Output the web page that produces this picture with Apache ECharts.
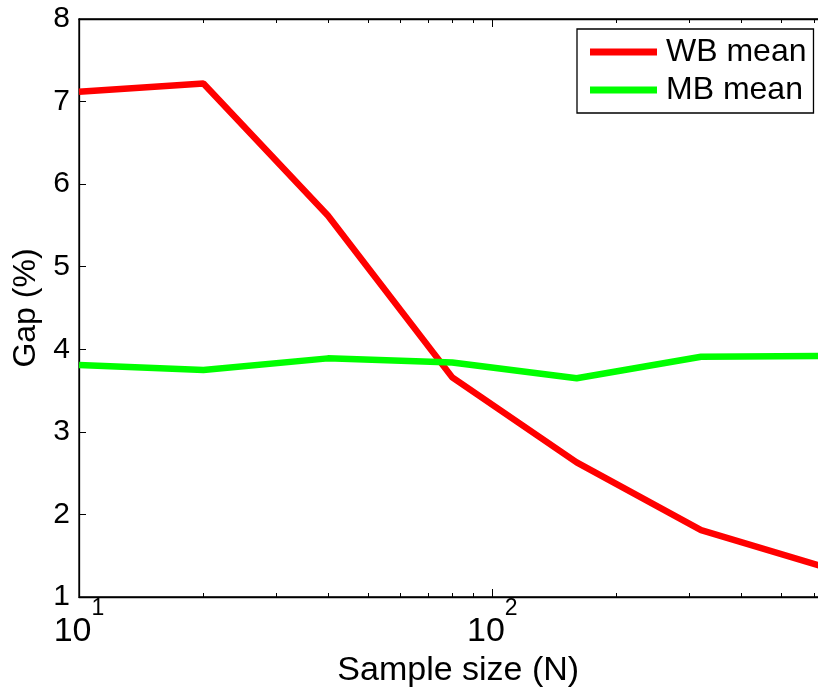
<!DOCTYPE html>
<html>
<head>
<meta charset="utf-8">
<script src="https://cdn.jsdelivr.net/npm/echarts@6/dist/echarts.min.js"></script>
<style>html,body{margin:0;padding:0;background:#fff}#c{width:818px;height:689px}</style>
</head>
<body>
<div id="c"></div>
<script>
const sampleSizes = [10, 20, 40, 80, 160, 320, 640];
const wbMean = [7.12, 7.22, 5.62, 3.66, 2.63, 1.81, 1.36];
const mbMean = [3.81, 3.75, 3.89, 3.84, 3.65, 3.91, 3.92];
const majorTicks = [10, 100];
const minorTicks = [20, 30, 40, 50, 60, 70, 80, 90, 200, 300, 400, 500, 600];
const yTicks = [1, 2, 3, 4, 5, 6, 7, 8];

const FONT = '"Liberation Sans", Arial, Helvetica, sans-serif';
const chart = echarts.init(document.getElementById('c'), null, {renderer: 'canvas'});

function xAx(pos, ticks, len, showLabel, showLine) {
  return {
    type: 'log', logBase: 10, min: 10, max: 640, position: pos,
    axisLine: {show: showLine, onZero: false, lineStyle: {color: '#000', width: 1.3}},
    axisTick: {show: true, inside: true, length: len, customValues: ticks, lineStyle: {color: '#000', width: 1}},
    axisLabel: {
      show: showLabel, customValues: majorTicks, margin: 0,
      formatter: function (v) { return '{b|10}{s|' + Math.round(Math.log10(v)) + '}'; },
      rich: {
        b: {fontSize: 34, lineHeight: 52, fontFamily: FONT, color: '#000', verticalAlign: 'bottom'},
        s: {fontSize: 23, lineHeight: 23, fontFamily: FONT, color: '#000', verticalAlign: 'top'}
      }
    },
    splitLine: {show: false}
  };
}

const xAxes = [xAx('bottom', majorTicks, 8, true, true), xAx('bottom', minorTicks, 4, false, false),
               xAx('top', majorTicks, 8, false, true), xAx('top', minorTicks, 4, false, false)];
xAxes[0].name = 'Sample size (N)';
xAxes[0].nameLocation = 'middle';
xAxes[0].nameGap = 49;
xAxes[0].nameTextStyle = {fontSize: 34, fontFamily: FONT, color: '#000', padding: [0, 0, 0, 12]};

chart.setOption({
  animation: false,
  grid: {left: 79, top: 19, right: -7.5, bottom: 92, show: true, borderColor: '#000', borderWidth: 1.3,
         backgroundColor: 'transparent', containLabel: false, outerBoundsMode: 'none'},
  xAxis: xAxes,
  yAxis: {
    type: 'value', min: 1, max: 8, interval: 1,
    name: 'Gap (%)', nameLocation: 'middle', nameGap: 36,
    nameTextStyle: {fontSize: 32, fontFamily: FONT, color: '#000'},
    axisLine: {show: true, lineStyle: {color: '#000', width: 1.3}},
    axisTick: {show: true, inside: true, length: 7, lineStyle: {color: '#000'}},
    axisLabel: {fontSize: 30, fontFamily: FONT, color: '#000', margin: 9,
      formatter: function (v) { return yTicks.indexOf(v) >= 0 ? String(v) : ''; }},
    splitLine: {show: false}
  },
  legend: {
    left: 577, top: 29, orient: 'vertical',
    padding: [6, 7, 6, 13], itemGap: 4,
    borderColor: '#000', borderWidth: 1.3, backgroundColor: '#fff',
    icon: 'rect', itemWidth: 67, itemHeight: 7,
    textStyle: {fontSize: 32, fontFamily: FONT, color: '#000', lineHeight: 34, padding: [0, 0, 0, 4]},
    data: ['WB mean', 'MB mean']
  },
  series: [
    {name: 'WB mean', type: 'line', xAxisIndex: 0, showSymbol: false, symbol: 'none', clip: true,
     lineStyle: {color: '#ff0000', width: 6.5}, itemStyle: {color: '#ff0000'},
     data: sampleSizes.map((x, i) => [x, wbMean[i]])},
    {name: 'MB mean', type: 'line', xAxisIndex: 0, showSymbol: false, symbol: 'none', clip: true,
     lineStyle: {color: '#00ff00', width: 6.5}, itemStyle: {color: '#00ff00'},
     data: sampleSizes.map((x, i) => [x, mbMean[i]])}
  ]
});
</script>
</body>
</html>
